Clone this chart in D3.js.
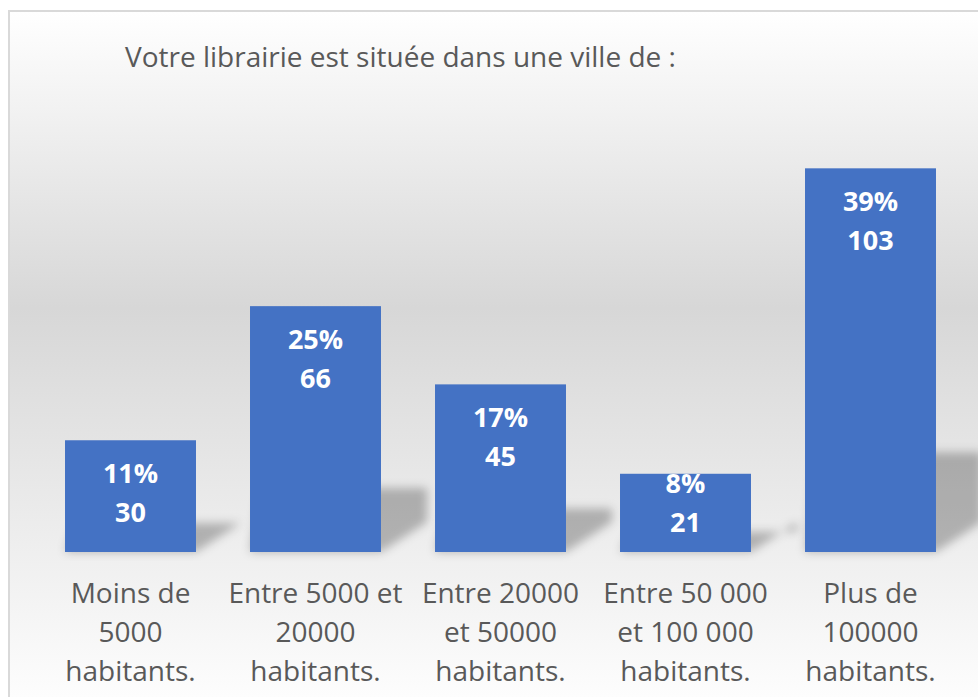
<!DOCTYPE html>
<html>
<head>
<meta charset="utf-8">
<script src="https://cdn.jsdelivr.net/npm/d3@7"></script>
<style>
  body { margin: 0; background: #fff; }
  svg { display: block; }
</style>
</head>
<body>
<svg id="chart" width="978" height="697"></svg>
<script>
// values
const categories = [
  ["Moins de", "5000", "habitants."],
  ["Entre 5000 et", "20000", "habitants."],
  ["Entre 20000", "et 50000", "habitants."],
  ["Entre 50 000", "et 100 000", "habitants."],
  ["Plus de", "100000", "habitants."]
];
const counts = [30, 66, 45, 21, 103];
const percents = ["11%", "25%", "17%", "8%", "39%"];
const title = "Votre librairie est située dans une ville de :";

const W = 978, H = 697;
const base = 552;
const font = "'Open Sans', sans-serif";

const svg = d3.select("#chart");
const defs = svg.append("defs");

const grad = defs.append("linearGradient")
    .attr("id", "bg").attr("x1", 0).attr("y1", 0).attr("x2", 0).attr("y2", 1);
grad.append("stop").attr("offset", "0%").attr("stop-color", "#ffffff");
grad.append("stop").attr("offset", "42%").attr("stop-color", "#d7d7d7");
grad.append("stop").attr("offset", "100%").attr("stop-color", "#ffffff");

const blur = defs.append("filter").attr("id", "blur")
    .attr("x", "-30%").attr("y", "-30%").attr("width", "160%").attr("height", "160%");
blur.append("feGaussianBlur").attr("stdDeviation", 5);

// frame + background
svg.append("rect")
    .attr("x", 9).attr("y", 11)
    .attr("width", W + 10).attr("height", H + 10)
    .attr("fill", "url(#bg)")
    .attr("stroke", "#d9d9d9")
    .attr("stroke-width", 2);

svg.append("text")
    .attr("x", 125).attr("y", 67)
    .attr("font-family", font)
    .attr("font-size", 28)
    .attr("fill", "#595959")
    .text(title);

const x = d3.scaleBand()
    .domain(d3.range(counts.length))
    .range([38, 963])
    .paddingInner(0.292)
    .paddingOuter(0.146);

const y = d3.scaleLinear()
    .domain([0, 120])
    .range([base, 105]);

// soft cast shadows behind the bars
svg.append("g").selectAll("path")
  .data(counts)
  .join("path")
    .attr("d", (d, i) => {
      const x0 = x(i), x1 = x(i) + x.bandwidth();
      const h = base - y(d);
      const sh = h * 0.26, dx = 46, dy = 30;
      return `M${x0 + 10},${base - sh} L${x1 + dx},${base - sh} L${x1 + dx},${base - dy} L${x1},${base} L${x0},${base} Z`;
    })
    .attr("fill", "#000")
    .attr("fill-opacity", 0.26)
    .attr("filter", "url(#blur)");

svg.append("g").selectAll("rect")
  .data(counts)
  .join("rect")
    .attr("x", (d, i) => x(i))
    .attr("y", d => y(d))
    .attr("width", x.bandwidth())
    .attr("height", d => base - y(d))
    .attr("fill", "#4472c4");

// data labels: percent over count, kept inside the bar
const labels = svg.append("g")
    .attr("font-family", font)
    .attr("font-weight", "bold")
    .attr("font-size", 27)
    .attr("fill", "#fff")
    .attr("text-anchor", "middle");

counts.forEach((d, i) => {
  const cx = x(i) + x.bandwidth() / 2;
  const vb = Math.min(y(d) + 82, base - 20);
  labels.append("text").attr("x", cx).attr("y", vb - 39).text(percents[i]);
  labels.append("text").attr("x", cx).attr("y", vb).text(d);
});

// category axis labels
const cat = svg.append("g")
    .attr("font-family", font)
    .attr("font-size", 28)
    .attr("fill", "#595959")
    .attr("text-anchor", "middle");

categories.forEach((lines, i) => {
  const t = cat.append("text")
      .attr("x", x(i) + x.bandwidth() / 2)
      .attr("y", 603);
  lines.forEach((l, k) => {
    t.append("tspan")
        .attr("x", x(i) + x.bandwidth() / 2)
        .attr("y", 603 + k * 39)
        .text(l);
  });
});
</script>
</body>
</html>
